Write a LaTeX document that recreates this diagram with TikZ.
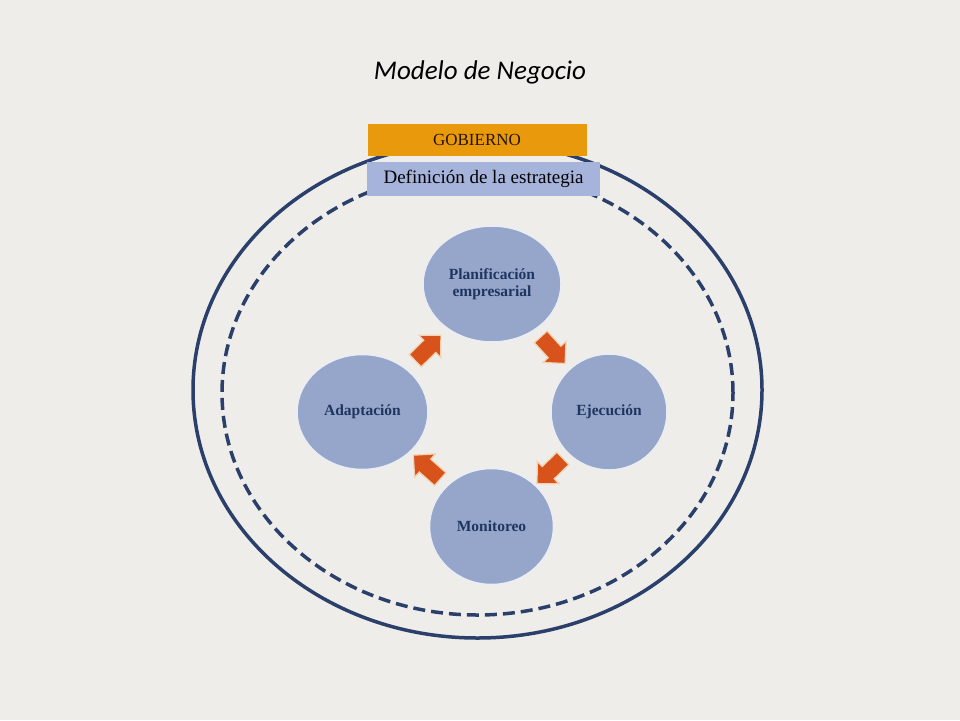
\documentclass[tikz,border=0pt]{standalone}
\usepackage{fontspec}
\setmainfont{Liberation Serif}
\newfontfamily\titlefont{Carlito}
\usetikzlibrary{shapes.geometric,shapes.arrows}
\definecolor{bgc}{HTML}{EEEDEA}
\definecolor{navy}{HTML}{2B3F6B}
\definecolor{circfill}{HTML}{95A6CA}
\definecolor{circtext}{HTML}{1F3561}
\definecolor{gobfill}{HTML}{E89A0C}
\definecolor{deffill}{HTML}{A6B4DC}
\definecolor{arrfill}{HTML}{D8521C}
\tikzset{
  phase/.style={ellipse, fill=circfill, draw=white!80!circfill, line width=1.5pt, inner sep=0pt,
    text=circtext, font=\bfseries\fontsize{15.5}{17}\selectfont, align=center},
  blockarrow/.style={single arrow, fill=arrfill, draw=orange!25!bgc, line width=1.2pt,
    minimum height=36pt, single arrow head extend=7pt,
    single arrow head indent=0pt, inner sep=0pt},
  ring/.style={draw=navy, line width=3.5pt},
  dring/.style={draw=navy, line width=3.5pt, dash pattern=on 12pt off 6pt},
  banner/.style={minimum height=32pt, inner sep=0pt}
}
\begin{document}
\begin{tikzpicture}[x=1pt,y=-1pt]
\fill[bgc] (0,0) rectangle (960,720);
\useasboundingbox (0,0) rectangle (960,720);
% title
\node[font=\titlefont\itshape\fontsize{27}{30}\selectfont, text=black] (title) at (480,72) {Modelo de Negocio};
% rings
\draw[ring] (477.5,390) ellipse [x radius=284.5pt, y radius=248pt];
\draw[dring] (477.5,393) ellipse [x radius=255.5pt, y radius=222pt];
% banners
\node[banner, fill=gobfill, minimum width=219pt, text=black!85!orange, font=\fontsize{17}{19}\selectfont] (gob) at (477,139.5) {GOBIERNO};
\node[banner, fill=deffill, minimum width=233pt, minimum height=34pt, text=black, font=\fontsize{19}{21}\selectfont] (def) at (483.5,179) {Definición de la estrategia};
% phases
\node[phase, minimum width=138pt, minimum height=116pt] (plan) at (492,284) {Planificación\\empresarial};
\node[phase, minimum width=131pt, minimum height=115pt] (adap) at (362.5,412) {Adaptación};
\node[phase, minimum width=116pt, minimum height=116pt] (ejec) at (609,412) {Ejecución};
\node[phase, minimum width=124pt, minimum height=116pt] (moni) at (491.5,526.5) {Monitoreo};
% cycle arrows
\node[blockarrow, rotate=44.6] (a1) at (425,351) {\rule{0pt}{16pt}};
\node[blockarrow, rotate=-47.6] (a2) at (550,347) {\rule{0pt}{16pt}};
\node[blockarrow, rotate=-135.7] (a3) at (553,468) {\rule{0pt}{16pt}};
\node[blockarrow, rotate=138.4] (a4) at (430,470) {\rule{0pt}{16pt}};
\end{tikzpicture}
\end{document}
